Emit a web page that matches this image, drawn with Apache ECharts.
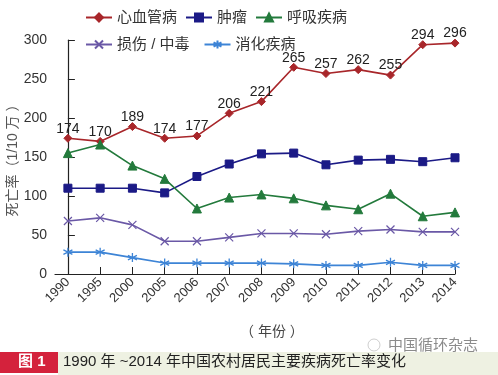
<!DOCTYPE html>
<html>
<head>
<meta charset="utf-8">
<script src="https://cdn.jsdelivr.net/npm/echarts@6/dist/echarts.min.js"></script>
<style>
  html, body { margin: 0; padding: 0; background: #fff; }
  #chart { width: 498px; height: 375px; }
</style>
</head>
<body>
<div id="chart"></div>
<script>
// data
var years = ['1990', '1995', '2000', '2005', '2006', '2007', '2008', '2009', '2010', '2011', '2012', '2013', '2014']
var cardio = [174, 170, 189, 174, 177, 206, 221, 265, 257, 262, 255, 294, 296]
var tumor = [110, 110, 110, 104, 125, 141, 154, 155, 140, 146, 147, 144, 149]
var resp = [155, 166, 139, 122, 84, 98, 102, 97, 88, 83, 103, 74, 79]
var injury = [68, 72, 63, 42, 42, 47, 52, 52, 51, 55, 57, 54, 54]
var digest = [28, 28, 21, 14, 14, 14, 14, 13, 11, 11, 15, 11, 11]
var yTicks = [0, 50, 100, 150, 200, 250, 300]

var FONT = '"Liberation Sans", "Noto Sans CJK SC", sans-serif'

function pairs(arr) {
  return arr.map(function (v, i) { return [i, v] })
}

var chart = echarts.init(document.getElementById('chart'))

function lineSeries(name, data, color, symbol, size, extra) {
  var s = {
    name: name,
    type: 'line',
    data: pairs(data),
    symbol: symbol,
    symbolSize: size,
    showAllSymbol: true,
    lineStyle: { color: color, width: 1.6 },
    itemStyle: { color: color, borderColor: color, borderWidth: 1 },
    animation: false
  }
  return Object.assign(s, extra || {})
}

chart.setOption({
  textStyle: { fontFamily: FONT },
  grid: { left: 55, right: 43, top: 40, bottom: 101, containLabel: false, outerBoundsMode: 'none' },
  legend: [{
    left: 80, top: 5,
    itemWidth: 26, itemHeight: 10, itemGap: 8,
    textStyle: { fontSize: 15, color: '#333', fontFamily: FONT },
    data: ['心血管病', '肿瘤', '呼吸疾病']
  }, {
    left: 80, top: 32,
    itemWidth: 26, itemHeight: 10, itemGap: 14,
    textStyle: { fontSize: 15, color: '#333', fontFamily: FONT },
    data: ['损伤 / 中毒', '消化疾病']
  }],
  xAxis: {
    type: 'value',
    min: -0.4,
    max: 12,
    splitLine: { show: false },
    axisLine: { lineStyle: { color: '#222', width: 1.2 } },
    axisTick: { inside: true, length: 7, lineStyle: { color: '#222' }, customValues: years.map(function (y, i) { return i }) },
    axisLabel: {
      customValues: years.map(function (y, i) { return i }),
      formatter: function (v) { return years[Math.round(v)] },
      rotate: 45, fontSize: 13, color: '#333', margin: 6, fontFamily: FONT
    }
  },
  yAxis: {
    type: 'value',
    min: 0, max: 300, interval: 50,
    name: '死亡率（1/10 万 ）',
    nameLocation: 'middle',
    nameGap: 35,
    nameMoveOverlap: false,
    nameTextStyle: { fontSize: 14, color: '#555', fontFamily: FONT },
    splitLine: { show: false },
    axisLine: { show: true, lineStyle: { color: '#222', width: 1.2 } },
    axisTick: { show: true, inside: true, length: 7, lineStyle: { color: '#222' } },
    axisLabel: { fontSize: 14, color: '#333', margin: 8, fontFamily: FONT,
      formatter: function (v) { return yTicks.indexOf(v) >= 0 ? String(v) : '' } }
  },
  series: [
    lineSeries('心血管病', cardio, '#a8262a', 'diamond', 8, {
      label: { show: true, position: 'top', distance: 0, offset: [0, 2], fontSize: 14, color: '#222', fontFamily: FONT }
    }),
    lineSeries('肿瘤', tumor, '#1b1a86', 'rect', 8),
    lineSeries('呼吸疾病', resp, '#237a3c', 'triangle', 9),
    lineSeries('损伤 / 中毒', injury, '#6a58a6', 'path://M0,0L10,10M10,0L0,10', 8, {
      itemStyle: { color: '#6a58a6', borderColor: '#6a58a6', borderWidth: 1.2 }
    }),
    lineSeries('消化疾病', digest, '#3d84d6', 'path://M5,0L5,10M0.7,2.5L9.3,7.5M0.7,7.5L9.3,2.5', 9, {
      itemStyle: { color: '#3d84d6', borderColor: '#3d84d6', borderWidth: 1.3 }
    })
  ],
  graphic: [
    { type: 'text', left: 240, top: 325, style: { text: '（ 年份 ）', font: '14px ' + FONT, fill: '#444' } },
    { type: 'rect', shape: { x: 0, y: 352, width: 58, height: 21 }, style: { fill: '#d4223c' } },
    { type: 'rect', shape: { x: 58, y: 352, width: 440, height: 23 }, style: { fill: '#eef1e2' } },
    { type: 'text', left: 18, top: 354, style: { text: '图 1', font: 'bold 15px ' + FONT, fill: '#fff' } },
    { type: 'text', left: 63, top: 354, style: { text: '1990 年 ~2014 年中国农村居民主要疾病死亡率变化', font: '15px ' + FONT, fill: '#222' } },
    { type: 'circle', shape: { cx: 374, cy: 345, r: 6 }, style: { fill: 'none', stroke: 'rgba(160,160,160,0.5)', lineWidth: 1 } },
    { type: 'text', left: 388, top: 338, style: { text: '中国循环杂志', font: '15px ' + FONT, fill: 'rgba(110,110,110,0.8)' } }
  ]
})
</script>
</body>
</html>
